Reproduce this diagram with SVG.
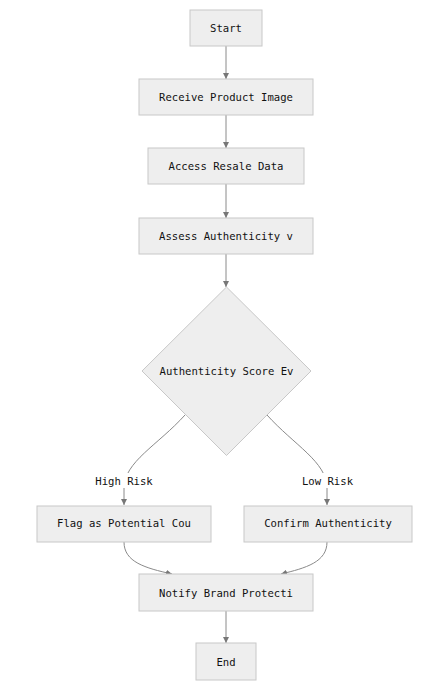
<svg xmlns="http://www.w3.org/2000/svg" width="444" height="692" viewBox="0 0 444 692">
<defs>
<marker id="arr" viewBox="0 0 10 10" refX="10" refY="5" markerWidth="6" markerHeight="6" orient="auto-start-reverse" markerUnits="userSpaceOnUse">
<path d="M0,0 L10,5 L0,10 z" fill="#777"/>
</marker>
<style>
.box{fill:#eeeeee;stroke:#c8c8c8;stroke-width:1}
.t{font-family:"DejaVu Sans Mono","Liberation Mono",monospace;font-size:10.6px;fill:#111;text-anchor:middle;dominant-baseline:central}
.e{fill:none;stroke:#8a8a8a;stroke-width:1;marker-end:url(#arr)}
.lbg{fill:#ffffff}
</style>
</defs>
<rect width="444" height="692" fill="#ffffff"/>
<g id="connectors">
<path class="e" d="M226,46 L226,79"/>
<path class="e" d="M226,115 L226,148"/>
<path class="e" d="M226,184 L226,218"/>
<path class="e" d="M226,254 L226,287"/>
<path class="e" d="M185,415 C158,445 124,462 124,488 L124,505"/>
<path class="e" d="M267,415 C294,445 327,462 327,488 L327,505"/>
<path class="e" d="M124,542 C124,562 145,568 172,574"/>
<path class="e" d="M327,542 C327,562 306,568 281,574"/>
<path class="e" d="M226,611 L226,643"/>
<rect class="lbg" x="94" y="473" width="60" height="15"/>
<text class="t" x="124" y="480.5">High Risk</text>
<rect class="lbg" x="300" y="473" width="55" height="15"/>
<text class="t" x="327.5" y="480.5">Low Risk</text>
</g>
<g id="start"><rect class="box" x="190" y="10" width="72" height="36"/><text class="t" x="226" y="28">Start</text></g>
<g id="receive"><rect class="box" x="139" y="79" width="174" height="36"/><text class="t" x="226" y="97">Receive Product Image</text></g>
<g id="access"><rect class="box" x="148" y="148" width="156" height="36"/><text class="t" x="226" y="166">Access Resale Data</text></g>
<g id="assess"><rect class="box" x="139" y="218" width="174" height="36"/><text class="t" x="226" y="236">Assess Authenticity v</text></g>
<g id="score"><polygon class="box" points="226.5,287 311,371 226.5,455.5 142,371"/><text class="t" x="226.5" y="371">Authenticity Score Ev</text></g>
<g id="flag"><rect class="box" x="37" y="506" width="174" height="36"/><text class="t" x="124" y="523">Flag as Potential Cou</text></g>
<g id="confirm"><rect class="box" x="244" y="506" width="168" height="36"/><text class="t" x="328" y="523">Confirm Authenticity</text></g>
<g id="notify"><rect class="box" x="139" y="574" width="174" height="37"/><text class="t" x="226" y="592.5">Notify Brand Protecti</text></g>
<g id="end"><rect class="box" x="196" y="643" width="60" height="37"/><text class="t" x="226" y="661.5">End</text></g>
</svg>
